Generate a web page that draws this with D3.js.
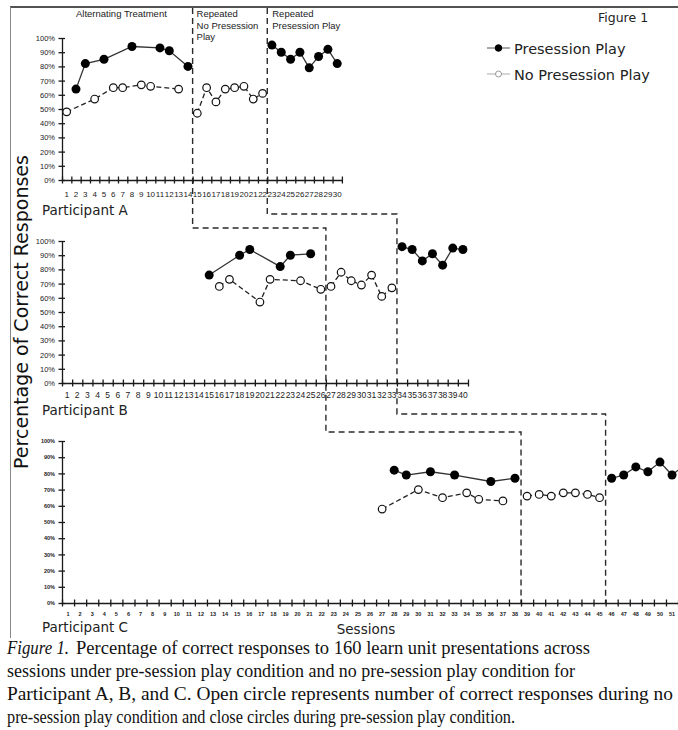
<!DOCTYPE html>
<html>
<head>
<meta charset="utf-8">
<script src="https://cdn.jsdelivr.net/npm/d3@7"></script>
<style>
  body { margin: 0; background: #fff; }
  svg { display: block; }
</style>
</head>
<body>
<div id="chart"></div>
<script>
// ---- data (session number, percent correct) ----
const aPreAlt = [[2, 64], [3, 82], [5, 85], [8, 94], [11, 93], [12, 91], [14, 80]];
const aNoAlt = [[1, 48], [4, 57], [6, 65], [7, 65], [9, 67], [10, 66], [13, 64]];
const aNoRep = [[15, 47], [16, 65], [17, 55], [18, 64], [19, 65], [20, 66], [21, 57], [22, 61]];
const aPreRep = [[23, 95], [24, 90], [25, 85], [26, 90], [27, 79], [28, 87], [29, 92], [30, 82]];

const bPreAlt = [[15, 76], [18, 90], [19, 94], [22, 82], [23, 90], [25, 91]];
const bNoAlt = [[16, 68], [17, 73], [20, 57], [21, 73], [24, 72], [26, 66]];
const bNoRep = [[27, 68], [28, 78], [29, 72], [30, 69], [31, 76], [32, 61], [33, 67]];
const bPreRep = [[34, 96], [35, 94], [36, 86], [37, 91], [38, 83], [39, 95], [40, 94]];

const cPreAlt = [[28, 82], [29, 79], [31, 81], [33, 79], [36, 75], [38, 77]];
const cNoAlt = [[27, 58], [30, 70], [32, 65], [34, 68], [35, 64], [37, 63]];
const cNoRep = [[39, 66], [40, 67], [41, 66], [42, 68], [43, 68], [44, 67], [45, 65]];
const cPreRep = [[46, 77], [47, 79], [48, 84], [49, 81], [50, 87], [51, 79], [52, 85]];

const yTicks = [0, 10, 20, 30, 40, 50, 60, 70, 80, 90, 100];
const phaseChangesA = [14.5, 22.5];
const phaseChangesB = [26.5, 33.5];
const phaseChangesC = [38.5, 45.5];
const phaseLabels = [["Alternating Treatment"], ["Repeated", "No Presession", "Play"], ["Repeated", "Presession Play"]];
const legendItems = ["Presession Play", "No Presession Play"];
const captionLines = [
  "Percentage of correct responses to 160 learn unit presentations across",
  "sessions under pre-session play condition and no pre-session play condition for",
  "Participant A, B, and C. Open circle represents number of correct responses during no",
  "pre-session play condition and close circles during pre-session play condition."
];

const W = 678, H = 730;
const svg = d3.select("#chart").append("svg").attr("width", W).attr("height", H);
svg.append("rect").attr("width", W).attr("height", H).attr("fill", "#fff");

const ink = "#1a1a1a";

const panels = [
  { name: "Participant A", n: 30, shown: 30, x0: 62, step: 9.33, top: 38, bottom: 180,
    pre: [aPreAlt, aPreRep], no: [aNoAlt, aNoRep], phases: phaseChangesA,
    yFont: 7.5, xFont: 8, xLabY: 197, nameY: 215 },
  { name: "Participant B", n: 40, shown: 40, x0: 62, step: 10.15, top: 241, bottom: 383,
    pre: [bPreAlt, bPreRep], no: [bNoAlt, bNoRep], phases: phaseChangesB,
    yFont: 7.5, xFont: 8.5, xLabY: 398, nameY: 415 },
  { name: "Participant C", n: 53, shown: 51, x0: 62, step: 12.08, top: 441, bottom: 603,
    pre: [cPreAlt, cPreRep], no: [cNoAlt, cNoRep], phases: phaseChangesC,
    yFont: 5.5, xFont: 5.5, xLabY: 616, nameY: 632 }
];

panels.forEach(p => {
  p.x = d3.scaleLinear().domain([0.5, p.n + 0.5]).range([p.x0, p.x0 + p.n * p.step]);
  p.y = d3.scaleLinear().domain([0, 100]).range([p.bottom, p.top]);
});

// frame lines (top and left)
svg.append("line").attr("x1", 10).attr("x2", W).attr("y1", 7).attr("y2", 7)
  .attr("stroke", ink).attr("stroke-width", 1.5);
svg.append("line").attr("x1", 10.5).attr("x2", 10.5).attr("y1", 7).attr("y2", 638)
  .attr("stroke", "#888").attr("stroke-width", 1);

// phase-change staircase lines
const [pA, pB, pC] = panels;
const stair1 = [
  [pA.x(phaseChangesA[0]), 8], [pA.x(phaseChangesA[0]), 228],
  [pB.x(phaseChangesB[0]), 228], [pB.x(phaseChangesB[0]), 432],
  [pC.x(phaseChangesC[0]), 432], [pC.x(phaseChangesC[0]), pC.bottom]
];
const stair2 = [
  [pA.x(phaseChangesA[1]), 8], [pA.x(phaseChangesA[1]), 214],
  [pB.x(phaseChangesB[1]), 214], [pB.x(phaseChangesB[1]), 414],
  [pC.x(phaseChangesC[1]), 414], [pC.x(phaseChangesC[1]), pC.bottom]
];
[stair1, stair2].forEach(s => {
  svg.append("path").attr("d", d3.line()(s)).attr("fill", "none")
    .attr("stroke", "#2a2a2a").attr("stroke-width", 1.4).attr("stroke-dasharray", "6,4");
});

panels.forEach(p => {
  const g = svg.append("g");

  // y axis
  const yAx = g.append("g").attr("transform", `translate(${p.x0},0)`)
    .call(d3.axisLeft(p.y).tickValues(yTicks).tickFormat(d => d + "%").tickSizeOuter(0));
  yAx.select(".domain").attr("stroke", ink).attr("stroke-width", 1.3);
  yAx.selectAll(".tick line").attr("x1", 3).attr("x2", -3.5).attr("stroke", ink).attr("stroke-width", 1.3);
  yAx.selectAll(".tick text").attr("x", -7).attr("font-family", "Liberation Sans, Arial, sans-serif")
    .attr("font-size", p.yFont).attr("font-weight", p.yFont < 6 ? "bold" : "normal").attr("fill", "#222");

  // x axis ticks at boundaries
  const bounds = d3.range(0, p.n + 1).map(i => i + 0.5);
  const xAx = g.append("g").attr("transform", `translate(0,${p.bottom})`)
    .call(d3.axisBottom(p.x).tickValues(bounds).tickFormat("").tickSizeOuter(0));
  xAx.select(".domain").attr("stroke", ink).attr("stroke-width", 1.3);
  xAx.selectAll(".tick line").attr("y1", -3.5).attr("y2", 3.5).attr("stroke", ink).attr("stroke-width", 1.3);

  // x labels
  g.append("g").selectAll("text").data(d3.range(1, p.shown + 1)).join("text")
    .attr("x", d => p.x(d)).attr("y", p.xLabY).attr("text-anchor", "middle")
    .attr("font-family", "Liberation Sans, Arial, sans-serif").attr("font-size", p.xFont)
    .attr("font-weight", p.xFont < 6 ? "bold" : "normal").attr("fill", "#222")
    .text(d => d);

  g.append("text").attr("x", 42).attr("y", p.nameY)
    .attr("font-family", "DejaVu Sans, Verdana, sans-serif").attr("font-size", 13.5)
    .attr("fill", "#222").text(p.name);

  const line = d3.line().x(d => p.x(d[0])).y(d => p.y(d[1]));

  p.no.forEach(seg => {
    g.append("path").attr("d", line(seg)).attr("fill", "none")
      .attr("stroke", "#222").attr("stroke-width", 1.3).attr("stroke-dasharray", "5,3");
  });
  p.pre.forEach(seg => {
    g.append("path").attr("d", line(seg)).attr("fill", "none")
      .attr("stroke", "#333").attr("stroke-width", 1.3);
  });
  p.no.forEach(seg => {
    g.append("g").selectAll("circle").data(seg).join("circle")
      .attr("cx", d => p.x(d[0])).attr("cy", d => p.y(d[1])).attr("r", 3.8)
      .attr("fill", "#fff").attr("stroke", "#111").attr("stroke-width", 1.2);
  });
  p.pre.forEach(seg => {
    g.append("g").selectAll("circle").data(seg).join("circle")
      .attr("cx", d => p.x(d[0])).attr("cy", d => p.y(d[1])).attr("r", 4.5)
      .attr("fill", "#000");
  });
});

// phase labels (Participant A)
const phaseLabelX = [76, pA.x(phaseChangesA[0]) + 4, pA.x(phaseChangesA[1]) + 5];
phaseLabels.forEach((lines, i) => {
  const t = svg.append("text").attr("font-family", "Liberation Sans, Arial, sans-serif")
    .attr("font-size", 9.5).attr("fill", "#222").attr("y", 17);
  lines.forEach((l, j) => {
    t.append("tspan").attr("x", phaseLabelX[i]).attr("dy", j === 0 ? 0 : 11.7).text(l);
  });
});

// Figure 1 + legend
svg.append("text").attr("x", 598).attr("y", 22)
  .attr("font-family", "DejaVu Sans, Verdana, sans-serif").attr("font-size", 12.5)
  .attr("fill", "#222").text("Figure 1");

const leg = svg.append("g").attr("transform", "translate(487,48)");
legendItems.forEach((name, i) => {
  const row = leg.append("g").attr("transform", `translate(0,${i * 26})`);
  row.append("line").attr("x1", 0).attr("x2", 23).attr("stroke", i === 0 ? "#555" : "#aaa").attr("stroke-width", 1);
  row.append("circle").attr("cx", 11.5).attr("r", i === 0 ? 3.3 : 3)
    .attr("fill", i === 0 ? "#000" : "#fff").attr("stroke", i === 0 ? "#000" : "#999");
  row.append("text").attr("x", 27).attr("y", 5.5)
    .attr("font-family", "DejaVu Sans, Verdana, sans-serif").attr("font-size", 14.5)
    .attr("fill", "#222").text(name);
});

// axis titles
svg.append("text")
  .attr("transform", "translate(28,312) rotate(-90)").attr("text-anchor", "middle")
  .attr("font-family", "DejaVu Sans, Verdana, sans-serif").attr("font-size", 19)
  .attr("fill", "#111").text("Percentage of Correct Responses");

svg.append("text").attr("x", 366).attr("y", 634).attr("text-anchor", "middle")
  .attr("font-family", "DejaVu Sans, Verdana, sans-serif").attr("font-size", 13.5)
  .attr("fill", "#222").text("Sessions");

// caption (widths fitted to the scanned figure)
const capY = [654, 677, 700, 723];
const capWidth = [514, 568, 666, 508];
const capStyle = t => t.attr("font-family", "Liberation Serif, Times New Roman, serif")
  .attr("font-size", 18).attr("fill", "#111");
svg.append("text").call(capStyle).attr("x", 7).attr("y", capY[0])
  .attr("font-style", "italic").attr("textLength", 62).attr("lengthAdjust", "spacingAndGlyphs")
  .text("Figure 1.");
captionLines.forEach((l, i) => {
  svg.append("text").call(capStyle)
    .attr("x", i === 0 ? 76 : 7).attr("y", capY[i])
    .attr("textLength", capWidth[i]).attr("lengthAdjust", "spacingAndGlyphs")
    .text(l);
});
</script>
</body>
</html>
